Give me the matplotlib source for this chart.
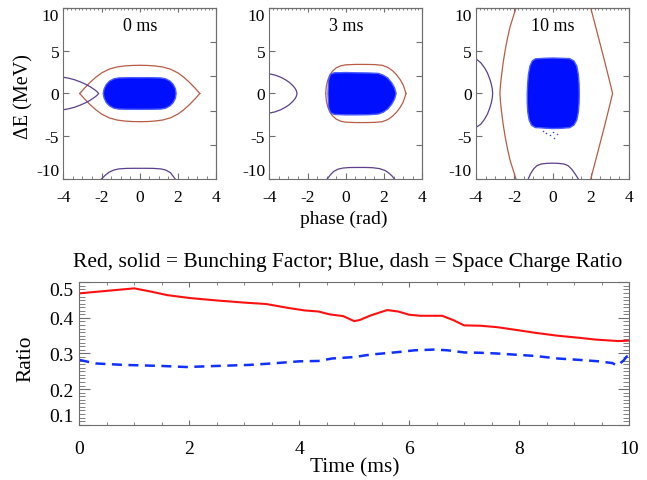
import numpy as np
import matplotlib.pyplot as plt
from matplotlib.ticker import MultipleLocator, FixedLocator, NullFormatter

plt.rcParams['font.family'] = ['Liberation Serif', 'DejaVu Serif']
plt.rcParams['axes.unicode_minus'] = False

# ----- Phase space panels (phase [rad], dE [MeV]) -----
panel_titles = ["0 ms", "3 ms", "10 ms"]

# separatrix (brown), upper half, lower half mirrored
sep_phi = [
    [-3.14, -2.9, -2.6, -2.3, -2.0, -1.6, -1.2, -0.8, -0.4, 0.0,
     0.4, 0.8, 1.2, 1.6, 2.0, 2.3, 2.6, 2.9, 3.14],
    [-1.05, -1.02, -0.95, -0.85, -0.7, -0.5, -0.25, 0.0, 0.5, 1.0,
     1.5, 1.9, 2.2, 2.45, 2.65, 2.85, 3.0, 3.15],
]
sep_de = [
    [0.0, 0.6, 1.3, 1.9, 2.4, 2.85, 3.1, 3.22, 3.28, 3.3,
     3.28, 3.22, 3.1, 2.85, 2.4, 1.9, 1.3, 0.6, 0.0],
    [0.0, 0.8, 1.5, 2.1, 2.6, 3.0, 3.25, 3.35, 3.4, 3.4,
     3.38, 3.3, 3.05, 2.65, 2.2, 1.6, 1.0, 0.0],
]
# 10 ms: two open separatrix branches
sep3_left_phi = [-1.91, -2.05, -2.22, -2.36, -2.48, -2.58, -2.66, -2.72, -2.75,
                 -2.72, -2.66, -2.58, -2.48, -2.36, -2.22, -2.05, -1.91]
sep3_left_de = [10, 9, 7.8, 6.4, 5, 3.6, 2.2, 1.0, 0,
                -1.0, -2.2, -3.6, -5, -6.4, -7.8, -9, -10]
sep3_right_phi = [2.0, 2.35, 2.7, 3.0, 3.14, 3.0, 2.7, 2.35, 2.0]
sep3_right_de = [10, 7, 4, 1.3, 0, -1.3, -4, -7, -10]

# neighbouring bucket (purple), left side
nb_phi = [
    [-4.0, -3.7, -3.4, -3.1, -2.85, -2.6, -2.4, -2.25, -2.15,
     -2.25, -2.4, -2.6, -2.85, -3.1, -3.4, -3.7, -4.0],
    [-4.0, -3.7, -3.4, -3.15, -2.95, -2.78, -2.65, -2.58, -2.55,
     -2.58, -2.65, -2.78, -2.95, -3.15, -3.4, -3.7, -4.0],
    [-4.0, -3.75, -3.55, -3.4, -3.28, -3.2, -3.15, -3.13,
     -3.15, -3.2, -3.28, -3.4, -3.55, -3.75, -4.0],
]
nb_de = [
    [1.9, 1.78, 1.6, 1.35, 1.1, 0.8, 0.5, 0.25, 0.0,
     -0.25, -0.5, -0.8, -1.1, -1.35, -1.6, -1.78, -1.9],
    [2.3, 2.15, 1.9, 1.6, 1.3, 0.95, 0.6, 0.3, 0.0,
     -0.3, -0.6, -0.95, -1.3, -1.6, -1.9, -2.15, -2.3],
    [4.05, 3.6, 3.0, 2.4, 1.7, 1.1, 0.55, 0.0,
     -0.55, -1.1, -1.7, -2.4, -3.0, -3.6, -3.96],
]
# neighbouring bucket (purple), bottom
nbb_phi = [
    [-2.0, -1.8, -1.6, -1.35, -1.1, -0.7, -0.3, 0.0, 0.3, 0.7, 1.1, 1.35, 1.6, 1.85],
    [-0.97, -0.8, -0.62, -0.4, -0.15, 0.2, 0.6, 1.0, 1.4, 1.75, 2.05, 2.25, 2.42, 2.54],
    [-1.27, -1.15, -1.0, -0.82, -0.6, -0.3, 0.0, 0.3, 0.6, 0.82, 1.0, 1.18, 1.35],
]
nbb_de = [
    [-10.0, -9.55, -9.2, -8.95, -8.82, -8.76, -8.75, -8.75, -8.75, -8.76, -8.82, -8.95, -9.25, -10.0],
    [-10.0, -9.5, -9.1, -8.85, -8.72, -8.66, -8.65, -8.65, -8.68, -8.78, -9.0, -9.3, -9.65, -10.0],
    [-10.0, -9.4, -8.85, -8.45, -8.25, -8.17, -8.15, -8.17, -8.25, -8.45, -8.85, -9.4, -10.0],
]

# particle distribution outline (blue)
blob_phi = [
    [-1.1, -0.5, 0.0, 0.5, 1.1, 1.35, 1.58, 1.75, 1.86, 1.9, 1.86, 1.75, 1.58, 1.35,
     1.1, 0.5, 0.0, -0.5, -1.1, -1.35, -1.58, -1.75, -1.86, -1.91, -1.86, -1.75, -1.58, -1.35],
    [-0.6, 0.0, 0.6, 1.2, 1.7, 1.95, 2.2, 2.4, 2.55, 2.63, 2.55, 2.4, 2.2, 1.95,
     1.7, 1.2, 0.6, 0.0, -0.6, -0.8, -0.9, -0.93, -0.9, -0.8],
    [-0.9, -0.4, 0.0, 0.4, 0.9, 1.12, 1.27, 1.35, 1.39, 1.4, 1.39, 1.35, 1.27, 1.12,
     0.9, 0.4, 0.0, -0.4, -0.9, -1.1, -1.22, -1.29, -1.32, -1.32, -1.3, -1.26, -1.18, -1.06],
]
blob_de = [
    [1.82, 1.85, 1.85, 1.85, 1.82, 1.72, 1.45, 1.05, 0.55, 0.0, -0.55, -1.05, -1.45, -1.72,
     -1.82, -1.85, -1.85, -1.85, -1.82, -1.72, -1.45, -1.05, -0.55, 0.0, 0.55, 1.05, 1.45, 1.72],
    [2.42, 2.45, 2.42, 2.4, 2.35, 2.15, 1.8, 1.25, 0.65, 0.0, -0.65, -1.25, -1.8, -2.2,
     -2.4, -2.48, -2.5, -2.5, -2.45, -2.25, -1.6, 0.0, 1.6, 2.25],
    [4.05, 4.12, 4.15, 4.12, 4.08, 3.8, 3.2, 2.2, 1.1, 0.0, -1.1, -2.2, -3.1, -3.7,
     -4.0, -4.08, -4.1, -4.05, -3.98, -3.7, -3.1, -2.2, -1.1, 0.0, 1.1, 2.2, 3.2, 3.8],
]
stray_phi = [-0.35, -0.15, 0.1, 0.25, -0.5, 0.05]
stray_de = [-4.6, -4.9, -5.2, -4.7, -4.4, -4.5]

# ----- Time evolution (bottom panel) -----
bf_time = [0.0, 0.5, 1.0, 1.3, 1.6, 2.0, 2.5, 3.0, 3.4, 3.8, 4.1, 4.35, 4.55, 4.8,
           5.0, 5.1, 5.3, 5.6, 5.8, 6.0, 6.2, 6.6, 6.8, 7.0, 7.3, 7.6, 8.0, 8.3,
           8.7, 9.1, 9.4, 9.8, 10.0]
bf_ratio = [0.469, 0.476, 0.483, 0.474, 0.464, 0.456, 0.449, 0.443, 0.439, 0.428, 0.421,
            0.418, 0.41, 0.405, 0.391, 0.394, 0.407, 0.422, 0.418, 0.409, 0.406, 0.406,
            0.394, 0.379, 0.378, 0.374, 0.365, 0.358, 0.35, 0.344, 0.339, 0.335, 0.336]
sc_time = [0.0, 0.3, 0.8, 1.5, 1.95, 2.5, 3.1, 3.5, 4.0, 4.35, 4.6, 5.0, 5.3, 5.8,
           6.1, 6.45, 6.7, 7.0, 7.3, 7.6, 8.0, 8.3, 8.7, 9.1, 9.45, 9.7, 9.78,
           9.9, 9.96, 10.0]
sc_ratio = [0.282, 0.272, 0.268, 0.265, 0.262, 0.265, 0.268, 0.272, 0.278, 0.279, 0.286,
            0.29, 0.297, 0.304, 0.309, 0.311, 0.309, 0.303, 0.302, 0.3, 0.296, 0.293,
            0.286, 0.282, 0.278, 0.273, 0.266, 0.28, 0.292, 0.274]

brown = '#b85c44'
purple = '#5c3f8e'
frame = '#6e6e6e'

fig = plt.figure(figsize=(6.47, 4.81), dpi=100)

lefts = [0.0978, 0.4162, 0.7357]
for i in range(3):
    ax = fig.add_axes([lefts[i], 0.6258, 0.2365, 0.3555])
    if i < 2:
        ax.plot(sep_phi[i], sep_de[i], color=brown, lw=0.9)
        ax.plot(sep_phi[i], [-v for v in sep_de[i]], color=brown, lw=0.9)
    else:
        ax.plot(sep3_left_phi, sep3_left_de, color=brown, lw=0.9)
        ax.plot(sep3_right_phi, sep3_right_de, color=brown, lw=0.9)
        ax.scatter(stray_phi, stray_de, s=1.2, color='#3040ff', lw=0)
    ax.plot(nb_phi[i], nb_de[i], color=purple, lw=0.9)
    ax.plot(nbb_phi[i], nbb_de[i], color=purple, lw=0.9)
    ax.fill(blob_phi[i], blob_de[i], facecolor='#0010ff', edgecolor='#4a5cff',
            lw=1.0, zorder=3)
    ax.text(0.5, 0.895, panel_titles[i], transform=ax.transAxes,
            ha='center', va='center', fontsize=13)

    ax.set_xlim(-4, 4)
    ax.set_ylim(-10, 10)
    ax.set_xticks([-4, -2, 0, 2, 4])
    ax.set_yticks([-10, -5, 0, 5, 10])
    ax.xaxis.set_minor_locator(MultipleLocator(0.5))
    ax.tick_params(axis='both', which='both', direction='in', colors=frame,
                   labelcolor='black', labelsize=12.5)
    ax.tick_params(axis='x', which='major', length=4, pad=7, top=False)
    ax.tick_params(axis='x', which='minor', length=2, top=False)
    ax.tick_params(axis='y', which='major', length=4, pad=3, right=False)
    ylabs = ax.get_yticklabels()
    ylabs[-1].set_verticalalignment('top')
    ylabs[0].set_verticalalignment('bottom')

    top = ax.secondary_xaxis('top')
    top.xaxis.set_major_locator(MultipleLocator(2))
    top.xaxis.set_minor_locator(MultipleLocator(0.2))
    top.xaxis.set_major_formatter(NullFormatter())
    top.tick_params(which='major', direction='in', length=3, colors=frame)
    top.tick_params(which='minor', direction='in', length=1.5, colors=frame)
    right = ax.secondary_yaxis('right')
    right.yaxis.set_major_locator(FixedLocator([-6, -2, 2, 6]))
    right.yaxis.set_major_formatter(NullFormatter())
    right.tick_params(which='major', direction='in', length=4, colors=frame)

    for sp in list(ax.spines.values()) + list(top.spines.values()) + list(right.spines.values()):
        sp.set_color(frame)
        sp.set_linewidth(0.8)

fig.text(0.037, 0.80, 'ΔE (MeV)', rotation=90, ha='center', va='center', fontsize=14.5)
fig.text(0.531, 0.543, 'phase (rad)', ha='center', va='center', fontsize=14)

# ----- Bottom panel -----
ax = fig.add_axes([0.1226, 0.115, 0.8496, 0.296])
ax.plot(bf_time, bf_ratio, color='#ff1010', lw=1.5)
ax.plot(sc_time, sc_ratio, color='#1030ff', lw=1.8, ls=(0, (4, 2.6)))
ax.set_xlim(0, 10)
ax.set_ylim(0.1, 0.5)
ax.set_xticks([0, 2, 4, 6, 8, 10])
ax.set_yticks([0.1, 0.2, 0.3, 0.4, 0.5])
ax.set_yticklabels(['0.1', '0.2', '0.3', '0.4', '0.5'])
ax.xaxis.set_minor_locator(MultipleLocator(0.5))
ax.yaxis.set_minor_locator(MultipleLocator(0.01))
ax.tick_params(axis='both', which='both', direction='in', colors=frame,
               labelcolor='black', labelsize=14, top=True, right=True)
ax.tick_params(axis='x', which='major', length=3.5, pad=11)
ax.tick_params(axis='x', which='minor', length=2.5)
ax.tick_params(axis='y', which='major', length=8, pad=4)
ax.tick_params(axis='y', which='minor', length=4, width=0.6)
ylabs = ax.get_yticklabels()
ylabs[-1].set_verticalalignment('top')
ylabs[0].set_verticalalignment('bottom')
for sp in ax.spines.values():
    sp.set_color(frame)
    sp.set_linewidth(0.8)

fig.text(0.537, 0.454, 'Red, solid = Bunching Factor; Blue, dash = Space Charge Ratio',
         ha='center', va='center', fontsize=15.5)
fig.text(0.548, 0.027, 'Time (ms)', ha='center', va='center', fontsize=15.4)
fig.text(0.040, 0.254, 'Ratio', rotation=90, ha='center', va='center', fontsize=15.4)

fig.savefig('out.png', dpi=100)
